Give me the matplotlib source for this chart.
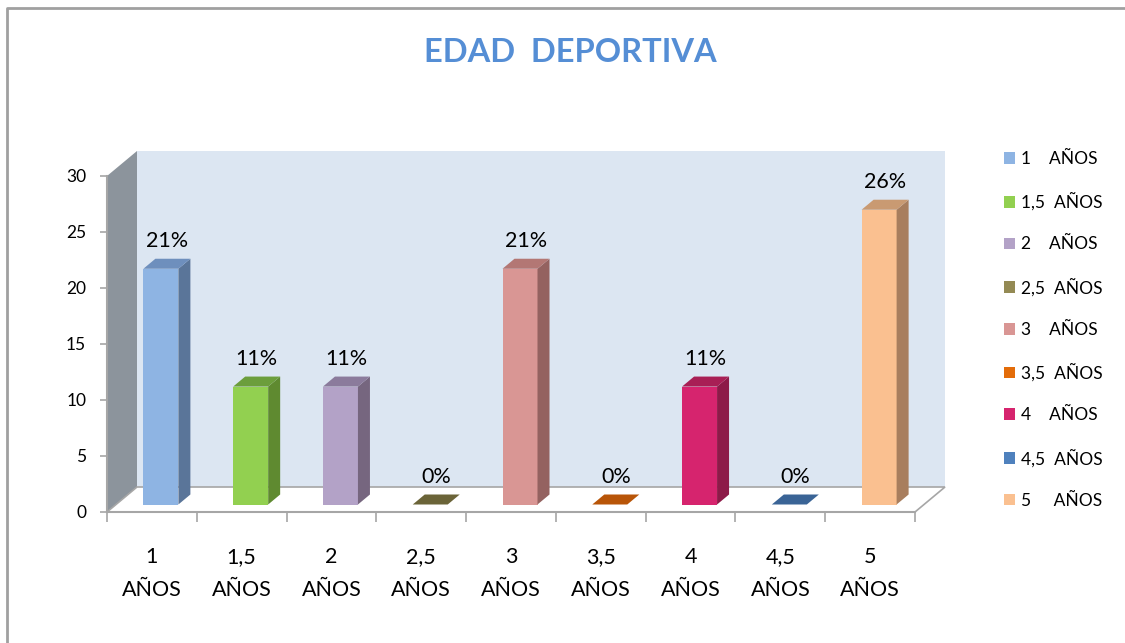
import numpy as np
import matplotlib
matplotlib.use('Agg')
import matplotlib.pyplot as plt
from matplotlib.patches import Polygon, Patch
from matplotlib.lines import Line2D

plt.rcParams['font.family'] = ['Lato', 'DejaVu Sans']

TITLE = 'EDAD  DEPORTIVA'
categories = ['1\nAÑOS', '1,5\nAÑOS', '2\nAÑOS', '2,5\nAÑOS', '3\nAÑOS',
              '3,5\nAÑOS', '4\nAÑOS', '4,5\nAÑOS', '5\nAÑOS']
legend_labels = ['1    AÑOS', '1,5  AÑOS', '2    AÑOS', '2,5  AÑOS', '3    AÑOS',
                 '3,5  AÑOS', '4    AÑOS', '4,5  AÑOS', '5     AÑOS']
values = [21.05, 10.53, 10.53, 0, 21.05, 0, 10.53, 0, 26.32]
value_labels = ['21%', '11%', '11%', '0%', '21%', '0%', '11%', '0%', '26%']
y_ticks = [0, 5, 10, 15, 20, 25, 30]

# front / side / top colours of each bar
front_colors = ['#8eb4e3', '#92d050', '#b3a2c7', '#948a54', '#d99694',
                '#e36c09', '#d6246e', '#4f81bd', '#fac090']
side_colors = ['#5a7599', '#5f8a30', '#76667f', '#6b6438', '#946260',
               '#b45208', '#8d1a48', '#3a6090', '#a87e5e']
top_colors = ['#6e8fbd', '#6c9e3c', '#8b7b9c', '#6b6438', '#b37774',
              '#b85508', '#a81f55', '#3a6496', '#c99a72']

W, H = 1125, 643
fig = plt.figure(figsize=(W / 100, H / 100), dpi=100)
ax = fig.add_axes([107 / W, (H - 512) / H, 808 / W, 336 / H])
ax.set_xlim(0, 9)
ax.set_ylim(0, 30)

n = len(values)
px_x = 808 / 9
px_y = 336 / 30
dx = 30 / px_x          # full depth of the box, in data units
dy = 25 / px_y
f0, g = 0.3, 0.4        # bar starts at 30% depth, is 40% deep
bw = 35 / px_x

# back wall, side wall, floor
ax.add_patch(Polygon([(dx, dy), (n + dx, dy), (n + dx, 30 + dy), (dx, 30 + dy)],
                     closed=True, fc='#dce6f2', ec='none', clip_on=False, zorder=0))
ax.add_patch(Polygon([(0, 0), (dx, dy), (dx, 30 + dy), (0, 30)],
                     closed=True, fc='#8c949c', ec='none', clip_on=False, zorder=0.5))
ax.add_patch(Polygon([(0, 0), (n, 0), (n + dx, dy), (dx, dy)],
                     closed=True, fc='white', ec='#a6a6a6', lw=1.2, clip_on=False, zorder=0.6))

x = np.arange(n) + 0.5
for i, v in enumerate(values):
    xl = x[i] - bw / 2 + f0 * dx
    xr = xl + bw
    b = f0 * dy
    t = b + v
    if v > 0:
        ax.bar(xl, v, width=bw, bottom=b, align='edge', color=front_colors[i],
               zorder=2)
        ax.add_patch(Polygon([(xr, b), (xr + g * dx, b + g * dy),
                              (xr + g * dx, t + g * dy), (xr, t)],
                             closed=True, fc=side_colors[i], ec='none', zorder=2))
    ax.add_patch(Polygon([(xl, t), (xr, t), (xr + g * dx, t + g * dy),
                          (xl + g * dx, t + g * dy)],
                         closed=True, fc=top_colors[i], ec='none', zorder=2))
    ax.text(x[i] + f0 * dx + g * dx / 2, t + g * dy + 0.7, value_labels[i],
            ha='center', va='bottom', fontsize=15.5, color='black', zorder=3)

for s in ['top', 'right']:
    ax.spines[s].set_visible(False)
for s in ['left', 'bottom']:
    ax.spines[s].set_color('#a6a6a6')
    ax.spines[s].set_linewidth(1.5)
ax.set_facecolor('none')

ax.set_yticks(y_ticks)
ax.tick_params(axis='y', length=5, width=1.2, color='#a6a6a6', pad=10,
               labelsize=12.5, labelcolor='black')
ax.set_xticks(x, categories)
ax.set_xticks(np.arange(n + 1), minor=True)
ax.tick_params(axis='x', which='major', length=0, pad=25, labelsize=15.5,
               labelcolor='black')
ax.tick_params(axis='x', which='minor', length=7, width=1.2, color='#a6a6a6')
for lbl in ax.get_xticklabels():
    lbl.set_linespacing(1.85)

handles = [Patch(fc=c, ec='none') for c in front_colors]
fig.legend(handles, legend_labels, loc='upper left',
           bbox_to_anchor=(997 / W, 1 - 144 / H), frameon=False, fontsize=12.5,
           handlelength=0.65, handleheight=0.65, handletextpad=0.35,
           labelspacing=1.47, borderaxespad=0, labelcolor='black')

fig.text(570 / W, 1 - 53 / H, TITLE, ha='center', va='center', fontsize=23.5,
         fontweight='bold', color='#558ed5')

# chart frame (left and top edges visible)
fig.add_artist(Line2D([7 / W, 7 / W, 1], [0, 1 - 8 / H, 1 - 8 / H],
                      transform=fig.transFigure, color='#a0a0a0', lw=2))

fig.savefig('out.png', dpi=100, facecolor='white')
